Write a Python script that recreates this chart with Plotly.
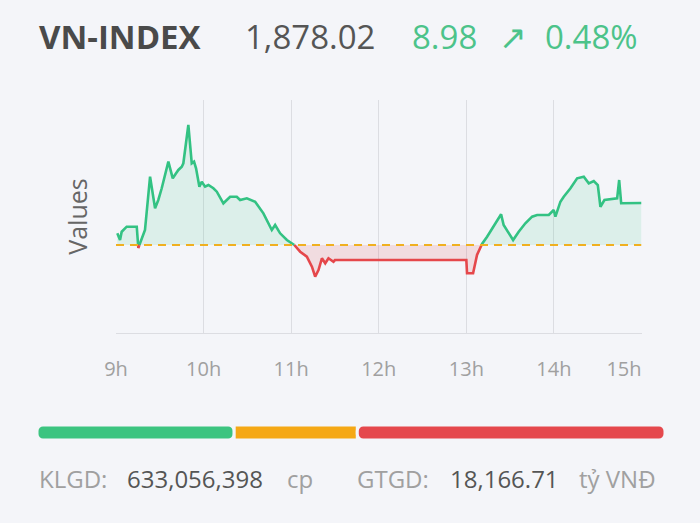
import plotly.graph_objects as go

# intraday VN-INDEX readings (hour of day, index value)
hours = [9.015, 9.046, 9.065, 9.122, 9.237, 9.255, 9.294, 9.331, 9.389, 9.419,
         9.446, 9.483, 9.522, 9.598, 9.648, 9.686, 9.712, 9.751, 9.769, 9.826,
         9.865, 9.891, 9.914, 9.952, 9.979, 10.017, 10.055, 10.112, 10.151, 10.226,
         10.303, 10.379, 10.417, 10.494, 10.589, 10.683, 10.741, 10.779, 10.817, 10.874,
         10.951, 11.026, 11.103, 11.179, 11.237, 11.274, 11.312, 11.351, 11.389, 11.426,
         11.483, 11.5, 13.0, 13.008, 13.077, 13.122, 13.179, 13.237, 13.294, 13.351,
         13.397, 13.426, 13.465, 13.534, 13.598, 13.674, 13.751, 13.808, 13.941, 13.998,
         14.017, 14.074, 14.112, 14.189, 14.265, 14.341, 14.398, 14.455, 14.501, 14.531,
         14.577, 14.722, 14.745, 14.768, 15.0]
values = [1871.54, 1870.11, 1871.88, 1872.95, 1872.95, 1868.40, 1870.47, 1872.25, 1883.63, 1880.43,
          1876.88, 1878.66, 1881.16, 1886.84, 1883.29, 1884.36, 1885.07, 1885.77, 1886.50, 1894.68,
          1886.50, 1886.84, 1885.43, 1881.50, 1882.57, 1881.50, 1881.86, 1881.16, 1880.43, 1877.95,
          1879.36, 1879.36, 1878.66, 1879.02, 1878.29, 1875.81, 1873.68, 1872.25, 1873.31, 1871.54,
          1870.11, 1869.25, 1867.61, 1866.54, 1864.40, 1862.27, 1863.70, 1866.20, 1865.13, 1866.20,
          1865.47, 1865.83, 1865.83, 1863.00, 1863.00, 1866.90, 1869.25, 1870.81, 1872.61, 1874.38,
          1875.60, 1873.31, 1872.25, 1870.11, 1871.88, 1873.68, 1875.09, 1875.45, 1875.45, 1876.52,
          1875.09, 1878.29, 1879.36, 1881.16, 1883.29, 1883.63, 1882.22, 1882.72, 1881.86, 1877.22,
          1878.66, 1879.02, 1882.93, 1877.95, 1878.02]

prev_close = 1869.04
last_value = "1,878.02"
change = "8.98"
change_pct = "0.48%"

tick_hours = [9, 10, 11, 12, 13, 14, 14.8]
tick_text = ["9h", "10h", "11h", "12h", "13h", "14h", "15h"]
grid_hours = [9, 10, 11, 12, 13, 14, 15]

# market breadth: advancing / unchanged / declining (share of bar)
breadth_labels = ["Tăng", "Đứng giá", "Giảm"]
breadth_share = [31.4, 19.6, 49.0]
breadth_colors = ["#3cc480", "#f5a815", "#e5484d"]

volume = "633,056,398"
turnover = "18,166.71"

BG = "#f4f5f9"
GREEN = "#33c283"
RED = "#e5474b"
FONT = "Open Sans"


def split_at_ref(xs, ys, ref):
    # insert the crossing points so the two colours meet on the reference line
    ox, oy = [xs[0]], [ys[0]]
    for i in range(1, len(xs)):
        x0, y0, x1, y1 = xs[i - 1], ys[i - 1], xs[i], ys[i]
        if (y0 - ref) * (y1 - ref) < 0:
            t = (ref - y0) / (y1 - y0)
            ox.append(x0 + t * (x1 - x0))
            oy.append(ref)
        ox.append(x1)
        oy.append(y1)
    return ox, oy


sx, sy = split_at_ref(hours, values, prev_close)
base = [prev_close] * len(sx)

fig = go.Figure()

# fills
fig.add_trace(go.Scatter(x=sx, y=base, mode="lines", line=dict(width=0), hoverinfo="skip", showlegend=False))
fig.add_trace(go.Scatter(x=sx, y=[max(v, prev_close) for v in sy], mode="lines", line=dict(width=0),
                         fill="tonexty", fillcolor="rgba(51,194,131,0.12)", hoverinfo="skip", showlegend=False))
fig.add_trace(go.Scatter(x=sx, y=base, mode="lines", line=dict(width=0), hoverinfo="skip", showlegend=False))
fig.add_trace(go.Scatter(x=sx, y=[min(v, prev_close) for v in sy], mode="lines", line=dict(width=0),
                         fill="tonexty", fillcolor="rgba(229,71,75,0.14)", hoverinfo="skip", showlegend=False))

# lines
fig.add_trace(go.Scatter(x=sx, y=[v if v >= prev_close else None for v in sy], mode="lines",
                         line=dict(color=GREEN, width=2.6), showlegend=False))
fig.add_trace(go.Scatter(x=sx, y=[v if v <= prev_close else None for v in sy], mode="lines",
                         line=dict(color=RED, width=2.6), showlegend=False))

fig.add_shape(type="line", xref="x", yref="y", x0=9, x1=15, y0=prev_close, y1=prev_close,
              line=dict(color="#f0b020", width=2, dash="8px,6px"))

# breadth bar
g, o, r = breadth_share
fig.add_trace(go.Bar(x=[-g], base=[g], y=[0], orientation="h", xaxis="x2", yaxis="y2",
                     marker=dict(color=breadth_colors[0], cornerradius=6, line=dict(color=BG, width=3)),
                     name=breadth_labels[0], showlegend=False, width=1))
fig.add_trace(go.Bar(x=[o], base=[g], y=[0], orientation="h", xaxis="x2", yaxis="y2",
                     marker=dict(color=breadth_colors[1], line=dict(color=BG, width=3)),
                     name=breadth_labels[1], showlegend=False, width=1))
fig.add_trace(go.Bar(x=[r], base=[g + o], y=[0], orientation="h", xaxis="x2", yaxis="y2",
                     marker=dict(color=breadth_colors[2], cornerradius=6, line=dict(color=BG, width=3)),
                     name=breadth_labels[2], showlegend=False, width=1))

W, H = 700, 523

fig.update_layout(
    width=W, height=H,
    margin=dict(l=0, r=0, t=0, b=0, autoexpand=False),
    paper_bgcolor=BG, plot_bgcolor=BG,
    font=dict(family=FONT, color="#555"),
    barmode="overlay",
    xaxis=dict(
        domain=[116 / W, 641.5 / W], range=[9, 15], automargin=False,
        tickvals=tick_hours, ticktext=tick_text, showgrid=False,
        tickfont=dict(size=20, color="#a0a0a0"), ticklabelstandoff=18,
        showline=True, linecolor="#dcdde2", linewidth=1,
        minor=dict(tickvals=grid_hours, showgrid=True, gridcolor="#dcdde2", gridwidth=1),
        zeroline=False, fixedrange=True,
    ),
    yaxis=dict(
        domain=[(H - 333) / H, (H - 100) / H], range=[1850.24, 1900.02], automargin=False,
        showticklabels=False, showgrid=False, zeroline=False,
        title=dict(text="Values", font=dict(size=25, color="#666"), standoff=20),
    ),
    xaxis2=dict(domain=[37 / W, 665 / W], range=[0, sum(breadth_share)], visible=False,
                anchor="y2", automargin=False),
    yaxis2=dict(domain=[(H - 440) / H, (H - 425) / H], range=[-0.5, 0.5], visible=False,
                anchor="x2", automargin=False),
)

# header
header = [(37, "<b>VN-INDEX</b>", "#4a4a4a"), (243, last_value, "#555"),
          (410, change, "#4cc38a"), (497, "↗", "#4cc38a"), (543, change_pct, "#4cc38a")]
for px, txt, col in header:
    fig.add_annotation(x=px / W, y=1 - 36 / H, xref="paper", yref="paper", xanchor="left", yanchor="middle",
                       text=txt, showarrow=False, font=dict(size=33, color=col))

# footer
footer = [(37, "KLGD:", "#a0a0a0"), (125, volume, "#555"), (285, "cp", "#a0a0a0"),
          (355, "GTGD:", "#a0a0a0"), (448, turnover, "#555"), (577, "tỷ VNĐ", "#a0a0a0")]
for px, txt, col in footer:
    fig.add_annotation(x=px / W, y=1 - 478 / H, xref="paper", yref="paper", xanchor="left", yanchor="middle",
                       text=txt, showarrow=False, font=dict(size=24, color=col))

fig.write_html("out.html", config={"displayModeBar": False},
               post_script="document.body.style.margin='0';")
